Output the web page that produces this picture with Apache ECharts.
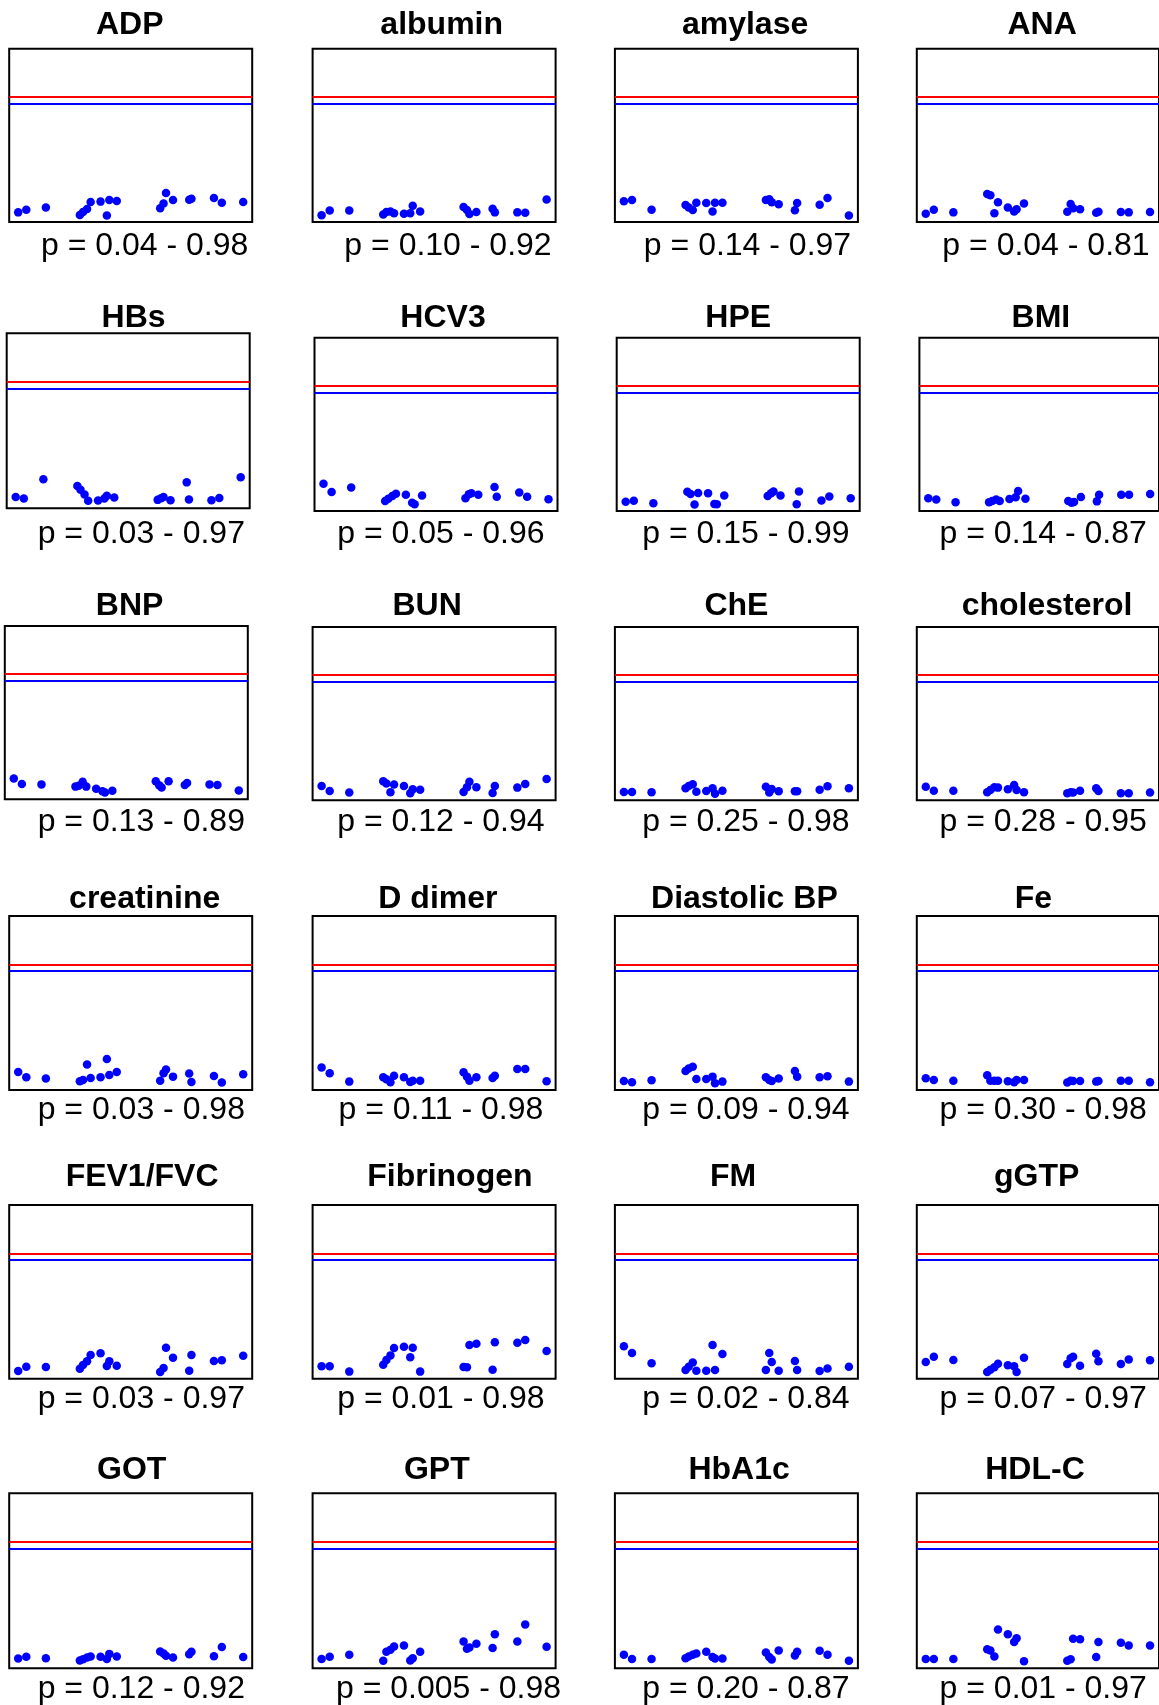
<!DOCTYPE html>
<html>
<head>
<meta charset="utf-8">
<title>trait panels</title>
<script src="https://cdn.jsdelivr.net/npm/echarts@6/dist/echarts.min.js"></script>
<style>
  html, body { margin: 0; padding: 0; background: #fff; }
  #chart { width: 1159px; height: 1705px; }
</style>
</head>
<body>
<div id="chart"></div>
<script>
// marker positions on the x axis, the same for every panel
var snpPos = [0, 36, 123, 274, 288, 306, 322, 366, 394, 405, 438, 631, 646, 657, 688, 760, 770, 870, 905, 1000];

var traitNames = [
    'ADP', 'albumin', 'amylase', 'ANA',
    'HBs', 'HCV3', 'HPE', 'BMI',
    'BNP', 'BUN', 'ChE', 'cholesterol',
    'creatinine', 'D dimer', 'Diastolic BP', 'Fe',
    'FEV1/FVC', 'Fibrinogen', 'FM', 'gGTP',
    'GOT', 'GPT', 'HbA1c', 'HDL-C'
];

var pRanges = [
    'p = 0.04 - 0.98', 'p = 0.10 - 0.92', 'p = 0.14 - 0.97', 'p = 0.04 - 0.81',
    'p = 0.03 - 0.97', 'p = 0.05 - 0.96', 'p = 0.15 - 0.99', 'p = 0.14 - 0.87',
    'p = 0.13 - 0.89', 'p = 0.12 - 0.94', 'p = 0.25 - 0.98', 'p = 0.28 - 0.95',
    'p = 0.03 - 0.98', 'p = 0.11 - 0.98', 'p = 0.09 - 0.94', 'p = 0.30 - 0.98',
    'p = 0.03 - 0.97', 'p = 0.01 - 0.98', 'p = 0.02 - 0.84', 'p = 0.07 - 0.97',
    'p = 0.12 - 0.92', 'p = 0.005 - 0.98', 'p = 0.20 - 0.87', 'p = 0.01 - 0.97'
];

// -log10(p) for each marker
var adp         = [0.20, 0.37, 0.51, 0.04, 0.22, 0.41, 0.85, 0.87, 0.00, 0.97, 0.91, 0.45, 0.76, 1.40, 0.97, 0.99, 1.05, 1.10, 0.80, 0.85];
var albumin     = [0.02, 0.31, 0.31, 0.06, 0.22, 0.26, 0.14, 0.12, 0.14, 0.62, 0.26, 0.53, 0.35, 0.10, 0.22, 0.43, 0.20, 0.20, 0.18, 1.00];
var amylase     = [0.89, 0.97, 0.37, 0.66, 0.51, 0.35, 0.80, 0.78, 0.26, 0.80, 0.80, 0.97, 1.01, 0.83, 0.70, 0.33, 0.78, 0.68, 1.10, 0.01];
var ana         = [0.12, 0.37, 0.20, 1.34, 1.26, 0.14, 0.83, 0.51, 0.26, 0.39, 0.76, 0.24, 0.72, 0.45, 0.39, 0.18, 0.24, 0.22, 0.20, 0.22];
var hbs         = [0.29, 0.20, 1.40, 0.97, 0.74, 0.45, 0.06, 0.08, 0.20, 0.37, 0.26, 0.12, 0.22, 0.29, 0.10, 1.20, 0.14, 0.10, 0.24, 1.52];
var hcv3        = [1.30, 0.78, 1.07, 0.22, 0.37, 0.53, 0.68, 0.62, 0.12, 0.02, 0.56, 0.39, 0.64, 0.70, 0.62, 1.10, 0.49, 0.76, 0.49, 0.33];
var hpe         = [0.18, 0.24, 0.08, 0.80, 0.66, 0.01, 0.72, 0.70, 0.04, 0.02, 0.56, 0.53, 0.70, 0.82, 0.56, 0.02, 0.82, 0.26, 0.51, 0.39];
var bmi         = [0.39, 0.31, 0.14, 0.14, 0.22, 0.31, 0.22, 0.35, 0.45, 0.85, 0.37, 0.22, 0.12, 0.16, 0.47, 0.20, 0.62, 0.62, 0.62, 0.66];
var bnp         = [0.89, 0.56, 0.53, 0.39, 0.45, 0.70, 0.39, 0.26, 0.10, 0.02, 0.14, 0.72, 0.47, 0.33, 0.72, 0.49, 0.62, 0.53, 0.49, 0.15];
var bun         = [0.49, 0.18, 0.08, 0.78, 0.64, 0.10, 0.58, 0.49, 0.04, 0.29, 0.26, 0.12, 0.41, 0.76, 0.41, 0.06, 0.49, 0.39, 0.62, 0.92];
var che         = [0.12, 0.12, 0.10, 0.35, 0.49, 0.60, 0.14, 0.18, 0.35, 0.01, 0.20, 0.45, 0.08, 0.31, 0.16, 0.16, 0.16, 0.26, 0.47, 0.35];
var cholesterol = [0.45, 0.20, 0.20, 0.10, 0.24, 0.41, 0.39, 0.29, 0.55, 0.24, 0.10, 0.04, 0.10, 0.08, 0.20, 0.35, 0.18, 0.04, 0.04, 0.08];
var creatinine  = [0.72, 0.39, 0.31, 0.14, 0.22, 1.18, 0.35, 0.39, 1.52, 0.53, 0.72, 0.18, 0.64, 0.87, 0.43, 0.62, 0.10, 0.47, 0.06, 0.58];
var dDimer      = [1.00, 0.64, 0.12, 0.39, 0.26, 0.08, 0.49, 0.39, 0.10, 0.18, 0.18, 0.70, 0.43, 0.18, 0.39, 0.35, 0.49, 0.91, 0.91, 0.14];
var diastolicBP = [0.16, 0.08, 0.20, 0.78, 0.93, 1.05, 0.29, 0.29, 0.43, 0.02, 0.12, 0.39, 0.22, 0.16, 0.31, 0.78, 0.43, 0.39, 0.45, 0.12];
var fe          = [0.33, 0.22, 0.18, 0.52, 0.18, 0.18, 0.18, 0.14, 0.08, 0.22, 0.22, 0.06, 0.18, 0.16, 0.16, 0.12, 0.16, 0.18, 0.18, 0.08];
var fev1fvc     = [0.08, 0.35, 0.33, 0.22, 0.45, 0.68, 1.07, 1.18, 0.39, 0.68, 0.41, 0.02, 0.26, 1.52, 0.91, 0.10, 1.07, 0.70, 0.74, 1.03];
var fibrinogen  = [0.37, 0.37, 0.04, 0.47, 0.76, 1.05, 1.51, 1.59, 0.93, 1.53, 0.04, 0.33, 0.31, 1.70, 1.78, 0.16, 1.86, 1.84, 2.00, 1.32];
var fm          = [1.62, 1.20, 0.56, 0.14, 0.35, 0.60, 0.10, 0.10, 1.70, 0.14, 1.14, 0.14, 1.20, 0.64, 0.10, 0.70, 0.14, 0.08, 0.24, 0.35];
var ggtp        = [0.64, 0.97, 0.76, 0.02, 0.16, 0.31, 0.53, 0.43, 0.37, 0.02, 0.91, 0.51, 0.87, 0.97, 0.41, 1.15, 0.68, 0.51, 0.80, 0.74];
var got         = [0.20, 0.31, 0.22, 0.08, 0.16, 0.26, 0.33, 0.31, 0.18, 0.49, 0.33, 0.64, 0.51, 0.37, 0.26, 0.47, 0.62, 0.35, 0.92, 0.29];
var gpt         = [0.18, 0.31, 0.43, 0.06, 0.62, 0.74, 0.95, 1.01, 0.08, 0.22, 0.62, 1.26, 0.80, 0.89, 1.12, 0.85, 1.70, 1.26, 2.30, 0.93];
var hba1c       = [0.43, 0.18, 0.18, 0.22, 0.33, 0.43, 0.51, 0.62, 0.29, 0.20, 0.20, 0.58, 0.29, 0.14, 0.70, 0.39, 0.62, 0.68, 0.43, 0.06];
var hdlC        = [0.18, 0.18, 0.18, 0.78, 0.70, 0.33, 2.00, 1.70, 1.22, 1.45, 0.04, 0.06, 0.16, 1.43, 1.39, 0.29, 1.22, 1.18, 1.01, 1.01];

var traitValues = [
    adp, albumin, amylase, ana,
    hbs, hcv3, hpe, bmi,
    bnp, bun, che, cholesterol,
    creatinine, dDimer, diastolicBP, fe,
    fev1fvc, fibrinogen, fm, ggtp,
    got, gpt, hba1c, hdlC
];

// threshold lines (-log10 p)
var redLineY = 7.4;
var blueLineY = 7.0;

// page layout of the 6 x 4 panels (pixels)
var rowTop = [48.7, 337.7, 627, 916, 1205, 1493.3];
var rowHeight = [173.3, 173.3, 173.3, 174, 173.7, 175];
var rowLefts = [
    [9.2, 312.6, 614.9, 916.8],
    [6.7, 314.5, 616.7, 919.4],
    [4.8, 312.6, 614.9, 916.8],
    [9.2, 312.6, 614.9, 916.8],
    [9.2, 312.6, 614.9, 916.8],
    [9.2, 312.6, 614.9, 916.8]
];
var titleY = [25.5, 318.5, 606.5, 899.5, 1177, 1470];
var labelY = [246, 534, 822.5, 1110.5, 1399, 1689.5];
var boxWidth = 243;

// titles and p labels are not exactly centred over their boxes
var titleShift = [
    -1, 7.6, 8.7, 3.8,
    5.4, 7, 0, 0,
    3.3, -7, 0, 8.7,
    14, 3.8, 8, -5,
    11.4, 15.8, -3.3, -1.6,
    1, 2.7, 2.7, -3.3
];
var labelShift = [
    13.9, 13.9, 11.1, 7.7,
    13.1, 4.9, 7.7, 2.3,
    15.0, 6.8, 9.5, 4.9,
    10.6, 6.8, 9.5, 4.9,
    10.6, 6.8, 9.5, 4.9,
    10.6, 14.4, 9.5, 4.9
];

// a couple of boxes sit slightly off the row
var boxNudge = {
    4: {top: 333.3, height: 175},
    8: {top: 626}
};

function boxRect(i) {
    var r = Math.floor(i / 4), c = i % 4;
    var rect = {left: rowLefts[r][c], top: rowTop[r], width: boxWidth, height: rowHeight[r]};
    var n = boxNudge[i];
    if (n) {
        for (var k in n) rect[k] = n[k];
    }
    return rect;
}

function createPanels(selector) {
    var myChart = echarts.init(document.getElementById(selector), null, {renderer: 'canvas'});
    var grids = [], xAxes = [], yAxes = [], series = [], texts = [];

    for (var i = 0; i < traitNames.length; i++) {
        var rect = boxRect(i);
        var r = Math.floor(i / 4);
        grids.push({
            left: rect.left, top: rect.top, width: rect.width, height: rect.height,
            show: true, borderColor: '#000', borderWidth: 2, backgroundColor: '#fff'
        });
        xAxes.push({
            gridIndex: i, type: 'value', min: -40, max: 1040,
            axisLine: {show: false}, axisTick: {show: false},
            axisLabel: {show: false}, splitLine: {show: false}
        });
        yAxes.push({
            gridIndex: i, type: 'value', min: -0.4, max: 10.4,
            axisLine: {show: false}, axisTick: {show: false},
            axisLabel: {show: false}, splitLine: {show: false}
        });

        var pts = [];
        for (var j = 0; j < snpPos.length; j++) {
            pts.push([snpPos[j], traitValues[i][j]]);
        }
        series.push({
            name: traitNames[i],
            type: 'scatter',
            xAxisIndex: i, yAxisIndex: i,
            data: pts,
            symbol: 'circle',
            symbolSize: 8.5,
            itemStyle: {color: '#0000ff', opacity: 1},
            markLine: {
                silent: true,
                symbol: 'none',
                label: {show: false},
                animation: false,
                data: [
                    {yAxis: redLineY, lineStyle: {color: '#ff0000', width: 2, type: 'solid'}},
                    {yAxis: blueLineY, lineStyle: {color: '#0000ff', width: 2, type: 'solid'}}
                ]
            }
        });

        var cx = rect.left + rect.width / 2;
        texts.push({
            type: 'text', x: cx + titleShift[i], y: titleY[r],
            style: {
                text: traitNames[i], fill: '#000',
                font: 'bold 32px "Liberation Sans", Arial, sans-serif',
                align: 'center', verticalAlign: 'middle',
                textAlign: 'center', textVerticalAlign: 'middle'
            }
        });
        texts.push({
            type: 'text', x: cx + labelShift[i], y: labelY[r],
            style: {
                text: pRanges[i], fill: '#000',
                font: '32px "Liberation Sans", Arial, sans-serif',
                align: 'center', verticalAlign: 'middle',
                textAlign: 'center', textVerticalAlign: 'middle'
            }
        });
    }

    myChart.setOption({
        animation: false,
        backgroundColor: '#fff',
        grid: grids,
        xAxis: xAxes,
        yAxis: yAxes,
        series: series,
        graphic: texts
    });
}

createPanels('chart');
</script>
</body>
</html>
